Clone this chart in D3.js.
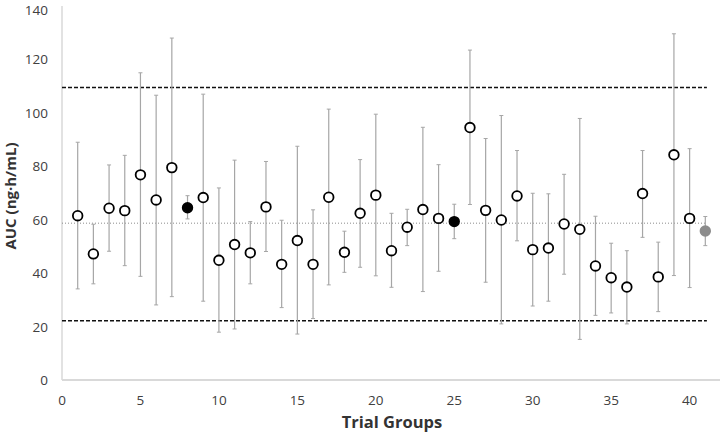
<!DOCTYPE html>
<html>
<head>
<meta charset="utf-8">
<script src="https://cdn.jsdelivr.net/npm/d3@7"></script>
<style>
	body { margin: 0; background: #fff; }
	svg { display: block; font-family: "Open Sans", "Liberation Sans", sans-serif; }
</style>
</head>
<body>
<svg id="chart" width="720" height="432"></svg>
<script>

// one entry per trial group (1..41)
var groups = d3.range(1, 42);
var auc = [61.5, 47.2, 64.3, 63.4, 76.8, 67.4, 79.5, 64.5, 68.3, 44.8,
	50.7, 47.6, 64.8, 43.3, 52.2, 43.3, 68.4, 47.8, 62.4, 69.2,
	48.4, 57.2, 63.8, 60.5, 59.3, 94.5, 63.5, 59.9, 68.9, 48.8,
	49.4, 58.4, 56.4, 42.7, 38.3, 34.8, 69.8, 38.6, 84.3, 60.5,
	55.8];
var hi = [89.0, 58.3, 80.5, 84.1, 115.0, 106.6, 128.0, 69.0, 107.0, 71.9,
	82.3, 59.3, 81.8, 59.8, 87.5, 63.7, 101.4, 55.7, 82.5, 99.5,
	62.4, 63.9, 94.6, 80.6, 65.8, 123.5, 90.4, 99.0, 85.9, 69.9,
	69.7, 77.0, 97.9, 61.3, 51.2, 48.4, 85.9, 51.6, 129.6, 86.6,
	61.2];
var lo = [34.1, 36.0, 48.2, 42.8, 38.8, 28.1, 31.2, 60.3, 29.5, 17.9,
	19.1, 36.0, 48.1, 27.1, 17.2, 23.0, 35.6, 40.3, 42.2, 39.0,
	34.7, 50.3, 33.1, 40.7, 52.9, 65.7, 36.6, 21.0, 52.1, 27.7,
	29.5, 39.6, 15.2, 24.2, 25.1, 21.0, 53.4, 25.6, 39.1, 34.6,
	50.3];
// marker kind: 0 open, 1 black, 2 grey
var kind = [0,0,0,0,0,0,0,1,0,0, 0,0,0,0,0,0,0,0,0,0, 0,0,0,0,1,0,0,0,0,0, 0,0,0,0,0,0,0,0,0,0, 2];

var refUpper = 109.5, refLower = 22.2, refMean = 58.7;
var refRange = [0, 41.1];

var xTicks = [0, 5, 10, 15, 20, 25, 30, 35, 40];
var yTicks = [0, 20, 40, 60, 80, 100, 120, 140];

var svg = d3.select("#chart");

var x = d3.scaleLinear([0, 42], [62, 721]);
var y = d3.scaleLinear([0, 140], [380, 6]);

var data = groups.map((g, i) => ({ g: g, v: auc[i], hi: hi[i], lo: lo[i], k: kind[i] }));

// axis lines
svg.append("line")
	.attr("x1", x(0)).attr("x2", x(0))
	.attr("y1", y(140)).attr("y2", y(0))
	.attr("stroke", "#d9d9d9").attr("stroke-width", 1.5);
svg.append("line")
	.attr("x1", x(0)).attr("x2", 720)
	.attr("y1", y(0)).attr("y2", y(0))
	.attr("stroke", "#d9d9d9").attr("stroke-width", 2);

// tick labels (top one nudged down so it stays inside the frame)
svg.selectAll(".ytick")
	.data(yTicks)
	.join("text")
	.attr("class", "ytick")
	.attr("x", 48).attr("y", d => Math.max(y(d) + 5, 14.5))
	.attr("text-anchor", "end")
	.attr("font-size", 13.5).attr("fill", "#404040")
	.text(d => d);

svg.selectAll(".xtick")
	.data(xTicks)
	.join("text")
	.attr("class", "xtick")
	.attr("x", d => x(d)).attr("y", 405)
	.attr("text-anchor", "middle")
	.attr("font-size", 13.5).attr("fill", "#404040")
	.text(d => d);

// titles
svg.append("text")
	.attr("x", 392).attr("y", 428)
	.attr("text-anchor", "middle")
	.attr("font-size", 16.5).attr("font-weight", "bold").attr("fill", "#333")
	.text("Trial Groups");

svg.append("text")
	.attr("transform", "translate(16,196) rotate(-90)")
	.attr("text-anchor", "middle")
	.attr("font-size", 15).attr("font-weight", "bold").attr("fill", "#333")
	.text("AUC (ng\u00b7h/mL)");

// reference lines
[refUpper, refLower].forEach(v => {
	svg.append("line")
		.attr("x1", x(refRange[0])).attr("x2", x(refRange[1]))
		.attr("y1", y(v)).attr("y2", y(v))
		.attr("stroke", "#111").attr("stroke-width", 1.5)
		.attr("stroke-dasharray", "4,2");
});
svg.append("line")
	.attr("x1", x(refRange[0])).attr("x2", x(refRange[1]))
	.attr("y1", y(refMean)).attr("y2", y(refMean))
	.attr("stroke", "#8c8c8c").attr("stroke-width", 1)
	.attr("stroke-dasharray", "1,2");

// error bars
var eb = svg.selectAll(".err")
	.data(data)
	.join("g")
	.attr("class", "err")
	.attr("stroke", "#a6a6a6");

eb.append("line")
	.attr("x1", d => x(d.g)).attr("x2", d => x(d.g))
	.attr("y1", d => y(d.hi)).attr("y2", d => y(d.lo))
	.attr("stroke-width", 1.2);
eb.append("line")
	.attr("x1", d => x(d.g) - 2).attr("x2", d => x(d.g) + 2)
	.attr("y1", d => y(d.hi)).attr("y2", d => y(d.hi))
	.attr("stroke-width", 1);
eb.append("line")
	.attr("x1", d => x(d.g) - 2).attr("x2", d => x(d.g) + 2)
	.attr("y1", d => y(d.lo)).attr("y2", d => y(d.lo))
	.attr("stroke-width", 1);

// markers
var fills = ["#fff", "#000", "#8c8c8c"];
var strokes = ["#000", "#000", "#8c8c8c"];

svg.selectAll(".pt")
	.data(data)
	.join("circle")
	.attr("class", "pt")
	.attr("cx", d => x(d.g)).attr("cy", d => y(d.v))
	.attr("r", 4.8)
	.attr("fill", d => fills[d.k])
	.attr("stroke", d => strokes[d.k])
	.attr("stroke-width", 1.8);

</script>
</body>
</html>
